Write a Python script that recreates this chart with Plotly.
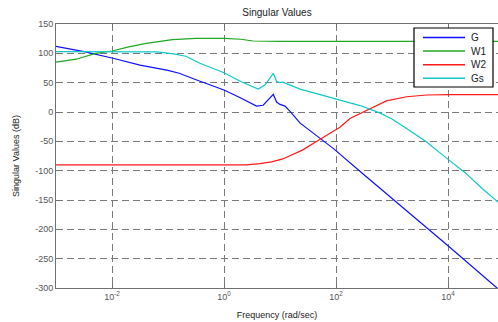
import numpy as np
import plotly.graph_objects as go

# log10(frequency) sample points and singular values (dB)
g_logw = [-3, -2.5, -2, -1.5, -1, -0.8, -0.5, -0.3, 0, 0.3, 0.5, 0.58, 0.7, 0.82, 0.88, 0.94, 1.0, 1.09, 1.18, 1.36, 1.71, 1.95, 2.5, 3, 4, 4.875, 5]
g_db = [112, 103, 92, 80, 71, 66, 55, 48, 37.5, 24, 14, 10, 11.5, 24, 30, 17, 13, 10, 1, -19, -45, -62, -107, -147, -228, -300, -310]

w1_logw = [-3, -2.64, -2.29, -2, -1.7, -1.39, -0.92, -0.5, 0, 0.3, 0.52, 1, 5]
w1_db = [85, 90, 100, 104, 111, 117, 123.5, 125.5, 125.5, 124, 121, 120.5, 120.5]

w2_logw = [-3, 0.4, 0.64, 0.85, 1.05, 1.4, 1.71, 2.07, 2.25, 2.55, 2.9, 3.26, 3.62, 4, 5]
w2_db = [-90, -90, -88, -85, -80, -65, -47, -26, -11, 3, 19, 26, 29, 29.5, 29.5]

gs_logw = [-3, -1.5, -1.2, -0.9, -0.68, -0.43, -0.2, 0, 0.3, 0.61, 0.73, 0.83, 0.88, 0.94, 1.0, 1.05, 1.15, 1.36, 1.7, 2.0, 2.43, 2.79, 3.0, 3.26, 3.6, 3.98, 4.3, 4.63, 4.875, 5]
gs_db = [103, 103, 102.5, 99, 95, 83, 75, 67, 52, 39, 46, 58, 66, 52, 50, 51, 47, 39, 30, 22, 11, -2, -12, -28, -50, -79, -103, -132, -152, -162]

series_names = ["G", "W1", "W2", "Gs"]
series_colors = ["#1010ff", "#20a820", "#ff1a1a", "#10c8c8"]
series_logw = [g_logw, w1_logw, w2_logw, gs_logw]
series_db = [g_db, w1_db, w2_db, gs_db]

x_tickvals = [1e-2, 1e0, 1e2, 1e4]
x_ticktext = ["10<sup>-2</sup>", "10<sup>0</sup>", "10<sup>2</sup>", "10<sup>4</sup>"]
y_tickvals = [150, 100, 50, 0, -50, -100, -150, -200, -250, -300]
y_ticktext = [str(v) for v in y_tickvals]

FONT = "Liberation Sans, Arial, Helvetica, sans-serif"

# plot area in pixels
W, H = 498, 322
PL, PR, PT, PB = 56, 498, 24, 288


def px_x(px):
    return (px - PL) / (PR - PL)


def px_y(py):
    return (PB - py) / (PB - PT)


fig = go.Figure()
for name, lw, db, col in zip(series_names, series_logw, series_db, series_colors):
    fig.add_trace(go.Scatter(
        x=10 ** np.array(lw, dtype=float), y=db, mode="lines", name=name,
        line=dict(color=col, width=1.2), showlegend=False,
    ))

# MATLAB-style legend box (compact rows)
shapes = [dict(type="rect", xref="paper", yref="paper",
               x0=px_x(414), x1=px_x(493), y0=px_y(87), y1=px_y(28),
               line=dict(color="black", width=1.2), fillcolor="white", layer="above")]
annotations = []
for i, (name, col) in enumerate(zip(series_names, series_colors)):
    ry = 37.5 + i * 13.6
    shapes.append(dict(type="line", xref="paper", yref="paper",
                       x0=px_x(423), x1=px_x(465), y0=px_y(ry), y1=px_y(ry),
                       line=dict(color=col, width=1.5), layer="above"))
    annotations.append(dict(text=name, xref="paper", yref="paper",
                            x=px_x(469), y=px_y(ry), xanchor="left", yanchor="middle",
                            showarrow=False, font=dict(family=FONT, size=10, color="#222222")))

fig.update_layout(
    width=W, height=H,
    margin=dict(l=PL, r=W - PR, t=PT, b=H - PB),
    paper_bgcolor="white", plot_bgcolor="white",
    font=dict(family=FONT, size=9, color="#555555"),
    title=dict(text="Singular Values", x=(PL + PR) / 2 / W, xanchor="center",
               y=1 - 12 / H, yanchor="middle",
               font=dict(family=FONT, size=10, color="#222222")),
    showlegend=False,
    shapes=shapes,
    annotations=annotations,
)

fig.update_xaxes(
    type="log", range=[-3, -3 + (PR - PL) / 56],
    tickvals=x_tickvals, ticktext=x_ticktext,
    showgrid=True, gridcolor="#7a7a7a", griddash="7px,4px", gridwidth=1,
    showline=True, linecolor="#707070", linewidth=1, mirror="ticks",
    ticks="inside", ticklen=4, tickcolor="#707070",
    zeroline=False,
    title=dict(text="Frequency (rad/sec)", standoff=10,
               font=dict(family=FONT, size=9, color="#222222")),
)
fig.update_yaxes(
    range=[-300, 150],
    tickvals=y_tickvals, ticktext=y_ticktext,
    showgrid=True, gridcolor="#7a7a7a", griddash="7px,4px", gridwidth=1,
    showline=True, linecolor="#707070", linewidth=1, mirror=False,
    ticks="inside", ticklen=4, tickcolor="#707070",
    zeroline=False,
    title=dict(text="Singular Values (dB)", standoff=14,
               font=dict(family=FONT, size=9, color="#222222")),
)

fig.write_html("out.html")
